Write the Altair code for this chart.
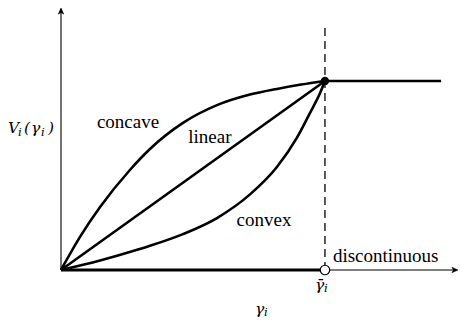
import altair as alt
import pandas as pd

# data (in units where gamma_bar = 1 and V(gamma_bar) = 1)
concave_x = [0.0, 0.072, 0.148, 0.261, 0.337, 0.462, 0.591, 0.716, 0.818, 0.91, 1.0]
concave_y = [0.0, 0.175, 0.333, 0.529, 0.640, 0.778, 0.872, 0.928, 0.958, 0.981, 1.0]
linear_x = [0.0, 1.0]
linear_y = [0.0, 1.0]
convex_x = [0.0, 0.148, 0.273, 0.337, 0.462, 0.591, 0.716, 0.818, 0.894, 0.943, 0.981, 1.0]
convex_y = [0.0, 0.050, 0.100, 0.128, 0.190, 0.275, 0.400, 0.545, 0.700, 0.830, 0.935, 1.0]
flat_x = [1.0, 1.44]
flat_y = [1.0, 1.0]
disc_x = [0.0, 1.0]
disc_y = [0.0, 0.0]
dash_x = [1.0, 1.0]
dash_y = [0.0, 1.28]

label_text = ["concave", "linear", "convex", "discontinuous"]
label_x = [0.254, 0.564, 0.769, 1.03]
label_y = [0.783, 0.704, 0.265, 0.074]
label_align = ["center", "center", "center", "left"]

XMAX = 1.504
YMAX = 1.386

xs = alt.Scale(domain=[0, XMAX], zero=False, nice=False)
ys = alt.Scale(domain=[0, YMAX], zero=False, nice=False)
X = lambda: alt.X("x:Q", scale=xs, axis=None)
Y = lambda: alt.Y("y:Q", scale=ys, axis=None)


def line(xv, yv, width=2.6, dash=None):
    df = pd.DataFrame({"x": xv, "y": yv})
    kw = dict(color="black", strokeWidth=width, interpolate="monotone")
    if dash:
        kw["strokeDash"] = dash
    return alt.Chart(df).mark_line(**kw).encode(x=X(), y=Y(), order="x:Q")


layers = []
# axes
layers.append(line([0, XMAX - 0.005], [0, 0], width=1.1))
layers.append(line([0, 0], [0, YMAX - 0.005], width=1.1))
# dashed line
layers.append(line(dash_x, dash_y, width=1.3, dash=[8, 5]))
# curves
layers.append(line(concave_x, concave_y))
layers.append(line(linear_x, linear_y))
layers.append(line(convex_x, convex_y))
layers.append(line(flat_x, flat_y))
layers.append(line(disc_x, disc_y, width=3))

# arrow heads
arr_r = pd.DataFrame({"x": [XMAX], "y": [0.0]})
layers.append(alt.Chart(arr_r).mark_point(
    shape="M-1,-0.45L0,0L-1,0.45L-0.75,0Z", size=150, filled=True,
    fill="black", stroke="black", strokeWidth=0.5, opacity=1
).encode(x=X(), y=Y()))
arr_t = pd.DataFrame({"x": [0.0], "y": [YMAX]})
layers.append(alt.Chart(arr_t).mark_point(
    shape="M-0.45,1L0,0L0.45,1L0,0.75Z", size=150, filled=True,
    fill="black", stroke="black", strokeWidth=0.5, opacity=1
).encode(x=X(), y=Y()))

# points
filled_pt = pd.DataFrame({"x": [1.0], "y": [1.0]})
layers.append(alt.Chart(filled_pt).mark_point(
    shape="circle", size=70, filled=True, fill="black", opacity=1
).encode(x=X(), y=Y()))
open_pt = pd.DataFrame({"x": [1.0], "y": [0.0]})
layers.append(alt.Chart(open_pt).mark_point(
    shape="circle", size=90, filled=True, fill="white", stroke="black",
    strokeWidth=1.2, opacity=1
).encode(x=X(), y=Y()))

# labels
label_font = "Liberation Serif"
math_font = "DejaVu Serif"
for t, lx, ly, al in zip(label_text, label_x, label_y, label_align):
    d = pd.DataFrame({"x": [lx], "y": [ly], "t": [t]})
    layers.append(alt.Chart(d).mark_text(
        font=label_font, fontSize=19, align=al, baseline="middle", color="black"
    ).encode(x=X(), y=Y(), text="t:N"))


def math(pieces, ax, ay):
    # pieces: (text, dx, dy, size)
    out = []
    for t, dx, dy, sz in pieces:
        d = pd.DataFrame({"x": [ax], "y": [ay], "t": [t]})
        out.append(alt.Chart(d).mark_text(
            font=math_font, fontSize=sz, fontStyle="italic", align="left",
            baseline="alphabetic", dx=dx, dy=dy, color="black"
        ).encode(x=X(), y=Y(), text="t:N"))
    return out


M, S = 15.5, 11.5
# V_i(gamma_i)
layers += math([("V", 0, 0, M), ("i", 10, 3, S), ("(", 16, 0, M),
                ("γ", 23, 0, M), ("i", 33, 3, S), (")", 40, 0, M)], -0.2008, 0.725)
# gamma bar _i
layers += math([("γ̄", 0, 0, M), ("i", 9, 2, S)], 0.962, -0.106)
# gamma_i
layers += math([("γ", 0, 0, M), ("i", 9, 2, S)], 0.735, -0.233)

chart = alt.layer(*layers).properties(
    width=397, height=262,
    autosize=alt.AutoSizeParams(type="none"),
    padding={"left": 53, "top": 0, "right": 2, "bottom": 51},
).configure_view(stroke=None)

chart.save("out.html", embed_options={"renderer": "svg", "actions": False})
